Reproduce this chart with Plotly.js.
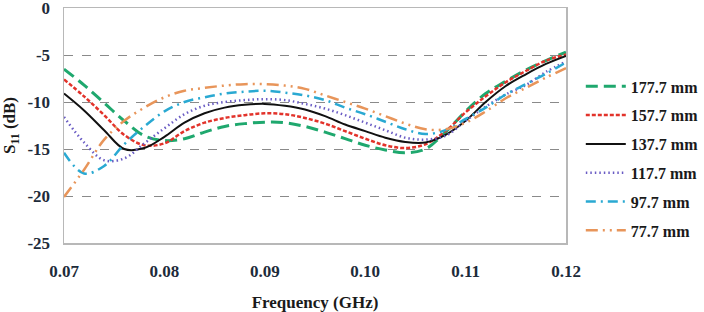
<!DOCTYPE html>
<html>
<head>
<meta charset="utf-8">
<script src="https://cdn.plot.ly/plotly-3.0.1.min.js"></script>
<style>html,body{margin:0;padding:0;background:#fff;}#chart{width:704px;height:312px;}</style>
</head>
<body>
<div id="chart"></div>
<script>
const freq = [0.070,0.072,0.074,0.076,0.078,0.080,0.082,0.084,0.086,0.088,0.090,0.092,0.094,0.096,0.098,0.100,0.102,0.104,0.106,0.108,0.110,0.112,0.114,0.116,0.118,0.120];
const s177 = [-6.5,-8.2,-10.1,-12.0,-13.6,-14.1,-13.9,-13.2,-12.6,-12.3,-12.15,-12.2,-12.6,-13.2,-13.9,-14.6,-15.1,-15.4,-15.0,-13.2,-11.0,-9.1,-7.8,-6.6,-5.6,-4.7];
const s157 = [-7.6,-9.4,-11.4,-13.5,-14.6,-14.4,-13.1,-12.2,-11.7,-11.4,-11.2,-11.3,-11.7,-12.3,-13.1,-13.9,-14.6,-14.9,-14.5,-13.1,-11.1,-9.4,-7.9,-6.7,-5.6,-4.95];
const s137 = [-9.1,-10.9,-13.0,-15.0,-14.9,-13.7,-12.2,-11.2,-10.6,-10.3,-10.2,-10.4,-10.8,-11.5,-12.4,-13.1,-13.8,-14.25,-14.3,-13.5,-12.0,-10.0,-8.3,-7.05,-5.95,-5.1];
const s117 = [-11.6,-14.3,-16.2,-16.0,-14.4,-12.8,-11.3,-10.4,-10.0,-9.8,-9.7,-9.8,-10.2,-10.7,-11.4,-12.2,-13.0,-13.8,-14.0,-13.6,-12.0,-10.5,-9.2,-8.2,-6.8,-5.7];
const s97 = [-15.4,-17.6,-16.8,-14.5,-12.6,-11.0,-10.0,-9.5,-9.1,-8.9,-8.8,-9.0,-9.3,-9.8,-10.6,-11.3,-12.1,-12.9,-13.4,-13.0,-11.8,-10.6,-9.2,-8.1,-7.0,-5.8];
const s77 = [-20.1,-17.2,-14.0,-12.0,-10.6,-9.5,-8.8,-8.5,-8.25,-8.1,-8.1,-8.25,-8.6,-9.3,-10.0,-10.7,-11.5,-12.3,-12.9,-12.9,-12.2,-11.0,-9.6,-8.5,-7.4,-6.4];
const seriesNames = ['177.7 mm','157.7 mm','137.7 mm','117.7 mm','97.7 mm','77.7 mm'];
const xTicks = [0.07,0.08,0.09,0.10,0.11,0.12];
const xTickText = ['0.07','0.08','0.09','0.10','0.11','0.12'];
const yTicks = [0,-5,-10,-15,-20,-25];
const yTickText = ['0','-5','-10','-15','-20','-25'];

const styles = [
  {color:'#1fa86e', dash:'12px,6px', width:3},
  {color:'#e2332b', dash:'4px,2px', width:2.5},
  {color:'#111111', dash:'solid', width:2},
  {color:'#6a5cc4', dash:'1.5px,3px', width:2.5},
  {color:'#2aa9d2', dash:'10px,5px,2px,5px', width:2.5},
  {color:'#e8955a', dash:'12px,5px,2px,5px,2px,5px', width:2.5}
];
const ys = [s177,s157,s137,s117,s97,s77];
const traces = ys.map((y,i)=>({
  x: freq, y: y, name: seriesNames[i], type:'scatter', mode:'lines',
  line:{color:styles[i].color, dash:styles[i].dash, width:styles[i].width, shape:'spline', smoothing:1},
  legendgroup:'g'+i
}));

const serif = 'Liberation Serif, Times New Roman, serif';
const tickFont = {family:serif, size:17, color:'#1d2b3a', weight:'bold'};
const layout = {
  width:704, height:312,
  margin:{l:64, r:138, t:8, b:69},
  paper_bgcolor:'#ffffff', plot_bgcolor:'#ffffff',
  showlegend:true,
  legend:{xref:'container', yref:'paper', x:0.825, y:0.36, xanchor:'left', yanchor:'middle', tracegroupgap:5,
    font:{family:serif, size:16, color:'#1a1a1a', weight:'bold'},
    bgcolor:'rgba(0,0,0,0)', itemwidth:40},
  xaxis:{range:[0.07,0.12], tickvals:xTicks, ticktext:xTickText, showgrid:false, zeroline:false,
    showline:true, linecolor:'#b8b8b8', linewidth:1.5, mirror:true, ticks:'', ticklen:0,
    tickfont:tickFont, ticklabelstandoff:12, automargin:false, ticklabeloverflow:'allow',
    title:{text:'Frequency (GHz)', font:{family:serif, size:17, color:'#1a1a1a', weight:'bold'}, standoff:20}},
  yaxis:{range:[-25,0], tickvals:yTicks, ticktext:yTickText, showgrid:true, gridcolor:'#8a8a8a', griddash:'dash', gridwidth:1,
    zeroline:false, showline:true, linecolor:'#b8b8b8', linewidth:1.5, mirror:true, ticks:'',
    tickfont:tickFont, ticklabelstandoff:9, automargin:false, ticklabeloverflow:'allow',
    title:{text:'S<sub>11</sub> (dB)', font:{family:serif, size:17, color:'#1a1a1a', weight:'bold'}, standoff:10}}
};
Plotly.newPlot('chart', traces, layout, {staticPlot:true, displayModeBar:false});
</script>
</body>
</html>
